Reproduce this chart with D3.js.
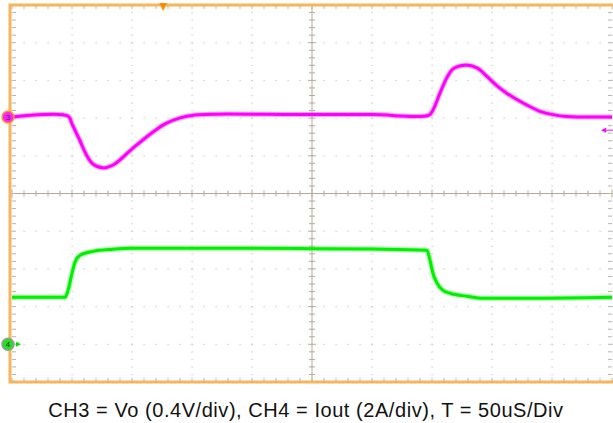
<!DOCTYPE html>
<html>
<head>
<meta charset="utf-8">
<script src="https://cdn.jsdelivr.net/npm/d3@7"></script>
<style>
  body { margin: 0; background: #ffffff; }
  svg { display: block; }
</style>
</head>
<body>
<div id="scope"></div>
<script>
// scope capture: CH3 = Vo, CH4 = Iout

// time axis, microseconds (50uS/div, 10 div)
var timeDomain = [0, 500];

// CH3 output voltage deviation (V), 0.4V/div
var ch3Time = [0, 46.7, 50, 56.7, 62.5, 67.5, 75.8, 84.2, 100.8, 117.5, 127.5, 140, 152.5, 169.2, 240, 300, 347.5,
  350.8, 356.7, 362.5, 367.5, 377.5, 387.5, 395.8, 404.2, 412.5, 420.8, 429.2, 440, 450.8, 462.5, 500];
var ch3Volts = [0.0, 0.01, -0.074, -0.255, -0.414, -0.50, -0.54, -0.51, -0.33, -0.16, -0.074, -0.01, 0.02, 0.03, 0.025, 0.025, 0.02,
  0.074, 0.255, 0.42, 0.51, 0.55, 0.52, 0.43, 0.33, 0.25, 0.185, 0.125, 0.06, 0.025, 0.005, 0.0];

// CH4 output current (A), 2A/div
var ch4Time = [0, 44.2, 46.7, 50, 52.5, 56.7, 67.5, 84.2, 100.8, 160, 240, 300, 345.8, 348.3, 350.8, 354.2, 359.2, 365,
  379.2, 392.5, 434.2, 500];
var ch4Amps = [2.49, 2.49, 2.86, 3.77, 4.35, 4.72, 4.93, 5.04, 5.09, 5.1, 5.08, 5.05, 4.99, 4.46, 3.77, 3.24, 2.86, 2.71,
  2.55, 2.44, 2.44, 2.49];

var caption = "CH3 = Vo (0.4V/div), CH4 = Iout (2A/div), T = 50uS/Div";

var W = 613, H = 423;
var pLeft = 12, pRight = 612, pTop = 5, pBottom = 382;
var nDivX = 10, nDivY = 10, nMinor = 5;

var svg = d3.select("#scope").append("svg").attr("width", W).attr("height", H);

// grid scales in divisions
var gx = d3.scaleLinear().domain([0, nDivX]).range([pLeft, pRight]);
var gy = d3.scaleLinear().domain([nDivY / 2, -nDivY / 2]).range([pTop, pBottom]);

// time scale
var x = d3.scaleLinear().domain(timeDomain).range([pLeft, pRight]);

// channel scales (position in div, units per div)
var ch3Pos = 2.03, ch3Scale = 0.4;
var ch4Pos = -4, ch4Scale = 2;
var y3 = d3.scaleLinear().domain([(-5 - ch3Pos) * ch3Scale, (5 - ch3Pos) * ch3Scale]).range([pBottom, pTop]);
var y4 = d3.scaleLinear().domain([(-5 - ch4Pos) * ch4Scale, (5 - ch4Pos) * ch4Scale]).range([pBottom, pTop]);

var minorX = d3.range(0, nDivX * nMinor + 1).map(d => d / nMinor);
var minorY = d3.range(-nDivY / 2 * nMinor, nDivY / 2 * nMinor + 1).map(d => d / nMinor);

var grid = svg.append("g");

// dotted grid on the major divisions
d3.range(1, nDivX).filter(d => d != nDivX / 2).forEach(function(i) {
  grid.selectAll(null).data(minorY).enter().append("rect")
    .attr("x", gx(i) - 0.5).attr("y", d => gy(d) - 0.5)
    .attr("width", 1.2).attr("height", 1.2)
    .attr("fill", "#c4c4c4");
});
d3.range(-nDivY / 2 + 1, nDivY / 2).filter(d => d != 0).forEach(function(j) {
  grid.selectAll(null).data(minorX).enter().append("rect")
    .attr("x", d => gx(d) - 0.5).attr("y", gy(j) - 0.5)
    .attr("width", 1.2).attr("height", 1.2)
    .attr("fill", "#c4c4c4");
});

// center cross
var crossColor = "#b3aa9a";
grid.append("line").attr("x1", pLeft).attr("x2", pRight).attr("y1", gy(0)).attr("y2", gy(0))
  .attr("stroke", crossColor).attr("stroke-width", 1);
grid.append("line").attr("x1", gx(nDivX / 2)).attr("x2", gx(nDivX / 2)).attr("y1", pTop).attr("y2", pBottom)
  .attr("stroke", crossColor).attr("stroke-width", 1);
grid.selectAll(null).data(minorX).enter().append("line")
  .attr("x1", d => gx(d)).attr("x2", d => gx(d))
  .attr("y1", d => gy(0) - (d % 1 == 0 ? 4 : 3)).attr("y2", d => gy(0) + (d % 1 == 0 ? 4 : 3))
  .attr("stroke", crossColor).attr("stroke-width", 1);
grid.selectAll(null).data(minorY).enter().append("line")
  .attr("y1", d => gy(d)).attr("y2", d => gy(d))
  .attr("x1", d => gx(nDivX / 2) - (d % 1 == 0 ? 4 : 3)).attr("x2", d => gx(nDivX / 2) + (d % 1 == 0 ? 4 : 3))
  .attr("stroke", crossColor).attr("stroke-width", 1);

// edge ticks
var edgeColor = "#b8b4ac";
grid.selectAll(null).data(minorX).enter().append("line")
  .attr("x1", d => gx(d)).attr("x2", d => gx(d)).attr("y1", pTop).attr("y2", pTop + 4)
  .attr("stroke", edgeColor);
grid.selectAll(null).data(minorX).enter().append("line")
  .attr("x1", d => gx(d)).attr("x2", d => gx(d)).attr("y1", pBottom).attr("y2", pBottom - 4)
  .attr("stroke", edgeColor);
grid.selectAll(null).data(minorY).enter().append("line")
  .attr("y1", d => gy(d)).attr("y2", d => gy(d)).attr("x1", pLeft).attr("x2", pLeft + 4)
  .attr("stroke", edgeColor);
grid.selectAll(null).data(minorY).enter().append("line")
  .attr("y1", d => gy(d)).attr("y2", d => gy(d)).attr("x1", pRight).attr("x2", pRight - 4)
  .attr("stroke", edgeColor);

// traces
var line3 = d3.line().x((d, i) => x(ch3Time[i])).y(d => y3(d)).curve(d3.curveCatmullRom.alpha(0.5));
var line4 = d3.line().x((d, i) => x(ch4Time[i])).y(d => y4(d)).curve(d3.curveMonotoneX);

svg.append("path").datum(ch3Volts).attr("d", line3)
  .attr("fill", "none").attr("stroke", "#ff44ff").attr("stroke-width", 5).attr("opacity", 0.5);
svg.append("path").datum(ch3Volts).attr("d", line3)
  .attr("fill", "none").attr("stroke", "#ff00ff").attr("stroke-width", 3);

svg.append("path").datum(ch4Amps).attr("d", line4)
  .attr("fill", "none").attr("stroke", "#44ff44").attr("stroke-width", 5).attr("opacity", 0.5);
svg.append("path").datum(ch4Amps).attr("d", line4)
  .attr("fill", "none").attr("stroke", "#00f000").attr("stroke-width", 3);

// frame
var orange = "#f7b45a";
svg.append("path")
  .attr("d", "M" + (pRight + 3) + "," + pTop + "H" + (pLeft - 2) + "V" + pBottom + "H" + (pRight + 3))
  .attr("fill", "none").attr("stroke", orange).attr("stroke-width", 3);

// trigger position marker
var trigX = x(126);
svg.append("path")
  .attr("d", "M" + (trigX - 4) + ",3L" + (trigX + 4) + ",3L" + trigX + ",11Z")
  .attr("fill", "#ff8c00");

// trigger level arrow (right side)
var trigY = y3(-0.14);
svg.append("line").attr("x1", 604).attr("x2", 613).attr("y1", trigY).attr("y2", trigY)
  .attr("stroke", "#ff00ff").attr("stroke-width", 1);
svg.append("path")
  .attr("d", "M601," + trigY + "L606," + (trigY - 2.5) + "L606," + (trigY + 2.5) + "Z")
  .attr("fill", "#ff00ff");

// channel markers
function marker(yPos, fill, ring, label) {
  var g = svg.append("g").attr("transform", "translate(8," + yPos + ")");
  g.append("circle").attr("r", 6).attr("fill", fill).attr("stroke", ring).attr("stroke-width", 1.5);
  g.append("text").attr("text-anchor", "middle").attr("dy", "0.35em")
    .attr("font-family", "Liberation Sans, Arial, sans-serif").attr("font-size", 8).attr("fill", "#333")
    .text(label);
  return g;
}
marker(y3(0), "#ff22ff", "#f7a030", "3");
var m4 = marker(y4(0), "#22e022", "#9a9a9a", "4");
m4.append("path").attr("d", "M8,-2.5L13,0L8,2.5Z").attr("fill", "#00e000");

// caption
svg.append("text")
  .attr("x", 306).attr("y", 417)
  .attr("text-anchor", "middle")
  .attr("font-family", "Liberation Sans, Arial, sans-serif")
  .attr("font-size", 20)
  .attr("letter-spacing", 0.55)
  .attr("fill", "#111")
  .text(caption);
</script>
</body>
</html>
